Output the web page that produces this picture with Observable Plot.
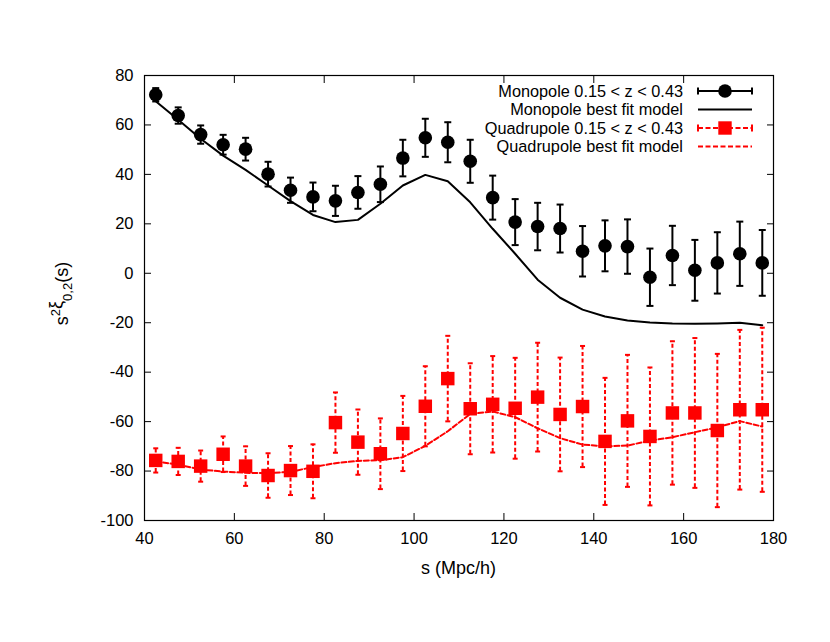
<!DOCTYPE html>
<html>
<head>
<meta charset="utf-8">
<script src="https://cdn.jsdelivr.net/npm/d3@7"></script>
<script src="https://cdn.jsdelivr.net/npm/@observablehq/plot@0.6"></script>
<style>
  html, body { margin: 0; padding: 0; background: #fff; }
  #chart { width: 830px; height: 642px; }
</style>
</head>
<body>
<div id="chart"></div>
<script>
// separation s (Mpc/h)
const sValues = [42.5, 47.5, 52.5, 57.5, 62.5, 67.5, 72.5, 77.5, 82.5, 87.5, 92.5, 97.5, 102.5, 107.5,
                 112.5, 117.5, 122.5, 127.5, 132.5, 137.5, 142.5, 147.5, 152.5, 157.5, 162.5, 167.5, 172.5, 177.5];
// monopole measurement and errors
const monoValues = [72.2, 63.8, 56.1, 52.0, 50.2, 40.1, 33.6, 30.9, 29.3, 32.7, 36.0, 46.6, 54.8, 53.0,
                    45.3, 30.6, 20.7, 18.9, 18.1, 8.9, 11.1, 10.8, -1.6, 7.2, 1.2, 4.2, 7.9, 4.2];
const monoErrors = [2.7, 3.3, 3.7, 4.0, 4.6, 5.0, 5.1, 5.8, 6.1, 6.6, 7.2, 7.4, 7.7, 8.1,
                    8.7, 8.9, 9.3, 9.6, 9.7, 10.2, 10.3, 11.0, 11.6, 12.0, 12.3, 12.4, 13.0, 13.3];
// monopole best-fit model
const monoModel = [69.6, 62.1, 54.4, 47.6, 41.8, 35.5, 29.2, 23.6, 20.7, 21.6, 28.1, 35.5, 39.8, 37.2,
                   28.7, 18.0, 7.9, -2.6, -9.9, -14.7, -17.5, -19.1, -19.9, -20.3, -20.4, -20.3, -20.0, -21.0];
// quadrupole measurement and errors
const quadValues = [-75.7, -76.1, -78.0, -73.2, -78.0, -81.8, -79.8, -80.1, -60.4, -68.3, -73.0, -64.8, -53.8, -42.6,
                    -54.8, -53.0, -54.6, -50.1, -57.1, -53.9, -68.0, -59.7, -66.0, -56.5, -56.5, -63.6, -55.2, -55.2];
const quadErrors = [4.9, 5.5, 6.3, 7.2, 8.0, 9.0, 9.9, 10.9, 12.2, 13.2, 14.3, 15.2, 16.2, 17.3,
                    18.4, 19.5, 20.4, 22.0, 23.0, 24.5, 25.7, 26.7, 27.9, 29.0, 30.3, 31.0, 32.3, 33.2];
// quadrupole best-fit model
const quadModel = [-76.1, -77.4, -79.4, -80.2, -80.7, -80.9, -80.3, -78.4, -76.8, -75.9, -75.6, -74.4, -69.8, -63.9,
                   -56.9, -55.9, -58.2, -62.7, -66.7, -69.3, -70.0, -69.7, -67.7, -66.3, -64.3, -62.3, -59.8, -62.0];

const xTicks = [40, 60, 80, 100, 120, 140, 160, 180];
const yTicks = [-100, -80, -60, -40, -20, 0, 20, 40, 60, 80];

const legendLabels = ["Monopole 0.15 < z < 0.43", "Monopole best fit model",
                      "Quadrupole 0.15 < z < 0.43", "Quadrupole best fit model"];

const mono = sValues.map((s, i) => ({s, v: monoValues[i], e: monoErrors[i], m: monoModel[i]}));
const quad = sValues.map((s, i) => ({s, v: quadValues[i], e: quadErrors[i], m: quadModel[i]}));

const RED = "#ff0000";
const FONT = "'Liberation Sans', Arial, Helvetica, sans-serif";
const capSymbol = {
  draw(context, size) {
    const r = Math.sqrt(size / Math.PI);
    context.moveTo(-r, 0);
    context.lineTo(r, 0);
  }
};

const chart = Plot.plot({
  width: 830,
  height: 642,
  marginLeft: 144,
  marginRight: 57,
  marginTop: 75,
  marginBottom: 122,
  style: {fontFamily: FONT, fontSize: "16px", color: "black", background: "white"},
  x: {domain: [40, 180]},
  y: {domain: [-100, 80]},
  marks: [
    // quadrupole
    Plot.line(quad, {x: "s", y: "m", stroke: RED, strokeWidth: 2, strokeDasharray: "5,2.5"}),
    Plot.ruleX(quad, {x: "s", y1: d => d.v - d.e, y2: d => d.v + d.e, stroke: RED, strokeWidth: 2, strokeDasharray: "4,2.5"}),
    Plot.dot(quad, {x: "s", y: d => d.v - d.e, symbol: capSymbol, r: 2.5, stroke: RED, strokeWidth: 2}),
    Plot.dot(quad, {x: "s", y: d => d.v + d.e, symbol: capSymbol, r: 2.5, stroke: RED, strokeWidth: 2}),
    Plot.dot(quad, {x: "s", y: "v", symbol: "square", r: 7.6, fill: RED, stroke: null}),
    // monopole
    Plot.line(mono, {x: "s", y: "m", stroke: "black", strokeWidth: 2}),
    Plot.ruleX(mono, {x: "s", y1: d => d.v - d.e, y2: d => d.v + d.e, stroke: "black", strokeWidth: 2}),
    Plot.dot(mono, {x: "s", y: d => d.v - d.e, symbol: capSymbol, r: 3.5, stroke: "black", strokeWidth: 2}),
    Plot.dot(mono, {x: "s", y: d => d.v + d.e, symbol: capSymbol, r: 3.5, stroke: "black", strokeWidth: 2}),
    Plot.dot(mono, {x: "s", y: "v", r: 6.8, fill: "black", stroke: null}),
    // axes (inward ticks, mirrored)
    Plot.axisX({anchor: "bottom", ticks: xTicks, tickSize: -7, tickPadding: 19, tickFormat: d => String(d), label: null, fontSize: 16.5}),
    Plot.axisX({anchor: "top", ticks: xTicks, tickSize: -7, tickFormat: () => "", label: null}),
    Plot.axisY({anchor: "left", ticks: yTicks, tickSize: -7, tickPadding: 18, tickFormat: d => String(d), label: null, fontSize: 16.5}),
    Plot.axisY({anchor: "right", ticks: yTicks, tickSize: -7, tickFormat: () => "", label: null}),
    Plot.frame({stroke: "black", strokeWidth: 1.2})
  ]
});

document.getElementById("chart").appendChild(chart);

// Labels and legend, positioned from the plot's own scales
const xs = chart.scale("x"), ys = chart.scale("y");
const frameLeft = Math.min(...xs.range), frameRight = Math.max(...xs.range);
const frameTop = Math.min(...ys.range), frameBottom = Math.max(...ys.range);
const svg = d3.select(chart);

svg.append("text")
  .attr("x", (frameLeft + frameRight) / 2).attr("y", frameBottom + 48)
  .attr("text-anchor", "middle").attr("dy", "0.35em")
  .style("font-family", FONT).style("font-size", "18px").attr("fill", "black")
  .text("s (Mpc/h)");

const yl = svg.append("text")
  .attr("transform", `translate(${frameLeft - 76},${(frameTop + frameBottom) / 2 - 4}) rotate(-90)`)
  .attr("text-anchor", "middle")
  .style("font-family", FONT).style("font-size", "18px").attr("fill", "black");
yl.append("tspan").text("s");
yl.append("tspan").attr("dy", -8).style("font-size", "13px").text("2");
yl.append("tspan").attr("dy", 2).text("ξ");
yl.append("tspan").attr("dy", 10).style("font-size", "13px").text("0,2");
yl.append("tspan").attr("dy", -4).text("(s)");

const lg = svg.append("g").style("font-family", FONT).style("font-size", "16.3px");
const lx0 = frameRight - 75, lx1 = frameRight - 21, lxm = frameRight - 48;
legendLabels.forEach((label, i) => {
  const ly = frameTop + 16 + i * 18.5;
  lg.append("text").attr("x", frameRight - 90).attr("y", ly).attr("dy", "0.35em")
    .attr("text-anchor", "end").attr("fill", "black").text(label);
  const isQuad = i >= 2;
  const color = isQuad ? RED : "black";
  const dash = isQuad ? "5,2.5" : null;
  lg.append("line").attr("x1", lx0).attr("x2", lx1).attr("y1", ly).attr("y2", ly)
    .attr("stroke", color).attr("stroke-width", 2).attr("stroke-dasharray", dash);
  if (i === 0 || i === 2) {
    [lx0, lx1].forEach(xx => lg.append("line").attr("x1", xx).attr("x2", xx)
      .attr("y1", ly - 3.5).attr("y2", ly + 3.5).attr("stroke", color).attr("stroke-width", 2));
  }
  if (i === 0) lg.append("circle").attr("cx", lxm).attr("cy", ly).attr("r", 6.8).attr("fill", "black");
  if (i === 2) lg.append("rect").attr("x", lxm - 6.7).attr("y", ly - 6.7).attr("width", 13.4).attr("height", 13.4).attr("fill", RED);
});
</script>
</body>
</html>
